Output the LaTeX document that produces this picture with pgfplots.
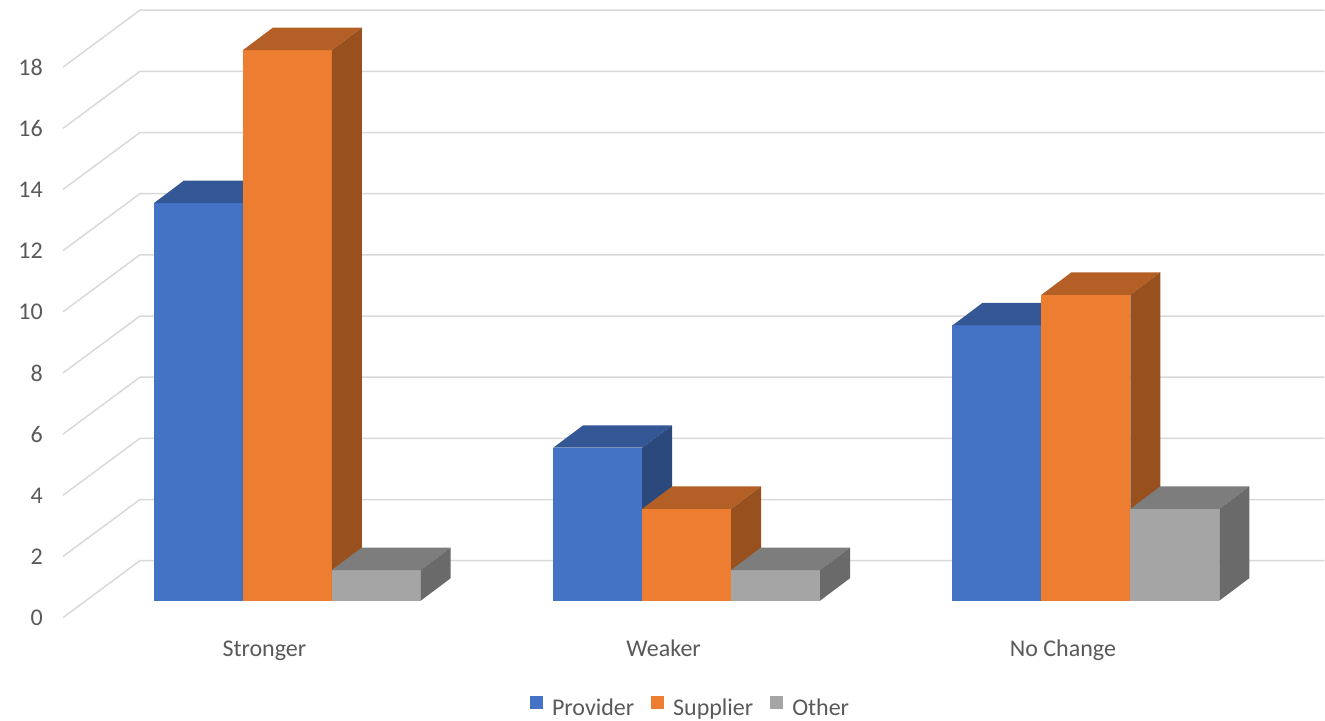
\documentclass[border=0pt]{standalone}
\usepackage{pgfplots}
\pgfplotsset{compat=1.18}
\usepackage{pgfplotstable}
\usepackage{fontspec}
\setmainfont{Carlito}

\definecolor{provider}{HTML}{4472C4}
\definecolor{supplier}{HTML}{ED7D31}
\definecolor{other}{HTML}{A5A5A5}
\definecolor{txt}{HTML}{595959}
\definecolor{gridgray}{HTML}{D9D9D9}

\pgfplotstableread{
idx Provider Supplier Other
0   13       18       1
1   5        3        1
2   9        10       3
}\responses

% oblique box projection, in axis units (one category = 1 in x)
\def\barw{0.222778}    % bar width
\def\dpx{0.075094}     % depth offset in x
\def\dpy{0.735294}     % depth offset in y
\def\wallx{-0.369212}  % left edge of the back wall
\def\walldy{1.307190}  % back wall sits this far above the bar plane
\def\frontx{-0.561952} % front edge of the side wall
\def\frontdy{-0.555556}
\def\xend{2.597}

% one box: #1 category, #2 series index, #3 value, #4 colour
\newcommand\drawbox[4]{%
  \pgfmathsetmacro\L{#1-1.5*\barw+#2*\barw}%
  \pgfmathsetmacro\R{\L+\barw}%
  \pgfmathsetmacro\Lb{\L+\dpx}%
  \pgfmathsetmacro\Rb{\R+\dpx}%
  \pgfmathsetmacro\Vb{#3+\dpy}%
  \edef\tmp{%
    \noexpand\addplot[forget plot, draw=none, fill=#4]
      coordinates {(\L,0) (\R,0) (\R,#3) (\L,#3)};
    \noexpand\addplot[forget plot, draw=none, fill=#4!76!black]
      coordinates {(\L,#3) (\R,#3) (\Rb,\Vb) (\Lb,\Vb)};
    \noexpand\addplot[forget plot, draw=none, fill=#4!64!black]
      coordinates {(\R,0) (\Rb,\dpy) (\Rb,\Vb) (\R,#3)};
  }\tmp
}

\begin{document}
\begin{tikzpicture}
\begin{axis}[
  scale only axis, width=1325bp, height=719bp,
  xmin=-0.719650, xmax=2.597000, ymin=-3.856209, ymax=19.640523,
  axis line style={draw=none}, tick style={draw=none},
  clip=false,
  xtick={0,1,2}, xticklabels={Stronger,Weaker,No Change},
  ytick={0,2,...,18},
  /pgf/number format/assume math mode=true,
  tick label style={font=\fontsize{24bp}{28bp}\selectfont, text=txt},
  xticklabel style={anchor=base, xshift=-23bp, yshift=62bp, inner sep=0pt},
  yticklabel style={anchor=east, xshift=43bp, yshift=-17bp, inner sep=0pt},
  legend columns=3,
  legend style={at={(0.5215,0.016)}, anchor=center, draw=none, fill=none,
    font=\fontsize{24bp}{28bp}\selectfont, text=txt,
    /tikz/every odd column/.append style={column sep=7bp},
    /tikz/every even column/.append style={column sep=15bp}},
  legend image code/.code={\fill[#1, draw=none] (0bp,-1bp) rectangle (13bp,12bp);},
]
% gridlines on the side wall and the back wall
\pgfplotsforeachungrouped \v in {0,2,...,18}{%
  \pgfmathsetmacro\yb{\v+\walldy}%
  \pgfmathsetmacro\yf{\v+\frontdy}%
  \edef\tmp{\noexpand\addplot[forget plot, draw=gridgray, line width=1.5bp]
    coordinates {(\frontx,\yf) (\wallx,\yb) (\xend,\yb)};}\tmp
}
% boxes, left to right
\pgfplotsforeachungrouped \c in {0,1,2}{%
  \pgfplotstablegetelem{\c}{Provider}\of\responses
  \drawbox{\c}{0}{\pgfplotsretval}{provider}%
  \pgfplotstablegetelem{\c}{Supplier}\of\responses
  \drawbox{\c}{1}{\pgfplotsretval}{supplier}%
  \pgfplotstablegetelem{\c}{Other}\of\responses
  \drawbox{\c}{2}{\pgfplotsretval}{other}%
}
\addlegendimage{fill=provider}\addlegendentry{Provider}
\addlegendimage{fill=supplier}\addlegendentry{Supplier}
\addlegendimage{fill=other}\addlegendentry{Other}
\end{axis}
\end{tikzpicture}
\end{document}
